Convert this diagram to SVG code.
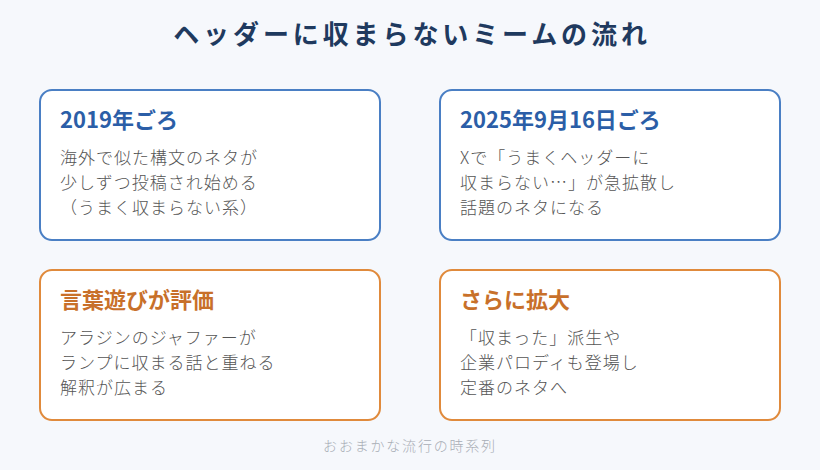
<svg xmlns="http://www.w3.org/2000/svg" width="820" height="470" viewBox="0 0 820 470">
<style>
text{font-family:"Noto Sans CJK JP","Noto Sans",sans-serif}
.title{font-size:26px;font-weight:700;fill:#1f3a5f;letter-spacing:3.9px}
.box{fill:#ffffff;stroke-width:2}
.blue .box{stroke:#4a7fc4}
.orange .box{stroke:#e08a3c}
.head{font-size:22px;font-weight:700}
.blue .head{fill:#2b5ea7}
.orange .head{fill:#c8702a}
.body{font-size:17px;fill:#555555;letter-spacing:1px;font-weight:300}
.foot{font-size:14px;fill:#a8adb5;letter-spacing:1.8px;font-weight:300}
</style>
<rect width="820" height="470" fill="#f6f8fc"/>
<text class="title" x="412" y="44" text-anchor="middle">ヘッダーに収まらないミームの流れ</text>
<g id="node-2019" class="blue">
<rect class="box" x="40" y="90" width="340" height="150" rx="12"/>
<text class="head" x="60" y="128">2019年ごろ</text>
<text class="body" x="60" y="164">海外で似た構文のネタが</text>
<text class="body" x="60" y="189">少しずつ投稿され始める</text>
<text class="body" x="60" y="214">（うまく収まらない系）</text>
</g>
<g id="node-2025" class="blue">
<rect class="box" x="440" y="90" width="340" height="150" rx="12"/>
<text class="head" x="460" y="128">2025年9月16日ごろ</text>
<text class="body" x="460" y="164">Xで「うまくヘッダーに</text>
<text class="body" x="460" y="189">収まらない…」が急拡散し</text>
<text class="body" x="460" y="214">話題のネタになる</text>
</g>
<g id="node-wordplay" class="orange">
<rect class="box" x="40" y="270" width="340" height="150" rx="12"/>
<text class="head" x="60" y="308">言葉遊びが評価</text>
<text class="body" x="60" y="344">アラジンのジャファーが</text>
<text class="body" x="60" y="369">ランプに収まる話と重ねる</text>
<text class="body" x="60" y="394">解釈が広まる</text>
</g>
<g id="node-expand" class="orange">
<rect class="box" x="440" y="270" width="340" height="150" rx="12"/>
<text class="head" x="460" y="308">さらに拡大</text>
<text class="body" x="460" y="344">「収まった」派生や</text>
<text class="body" x="460" y="369">企業パロディも登場し</text>
<text class="body" x="460" y="394">定番のネタへ</text>
</g>
<g id="connectors"></g>
<text class="foot" x="410" y="451" text-anchor="middle">おおまかな流行の時系列</text>
</svg>
